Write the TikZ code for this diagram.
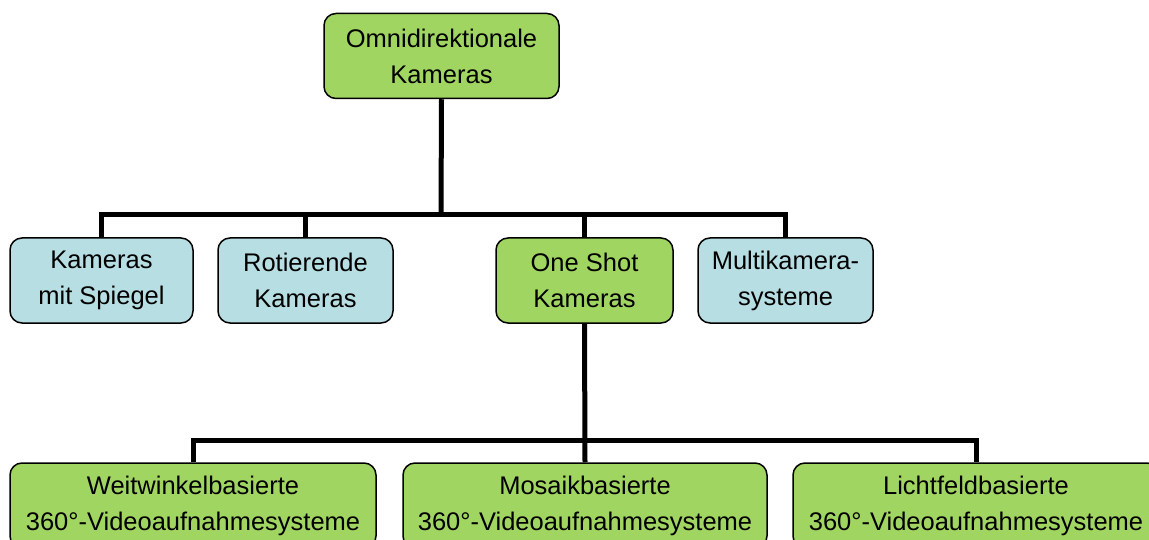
\documentclass[tikz,border=0pt]{standalone}
\usepackage{fontspec}
\setmainfont{Liberation Sans}
\definecolor{boxgreen}{HTML}{A0D562}
\definecolor{boxblue}{HTML}{B7DEE3}

\begin{document}
\begin{tikzpicture}[x=1pt, y=-1pt,
    box/.style={draw, line width=1.5pt, rounded corners=12pt, align=center, inner sep=0pt,
      minimum height=85pt, font=\fontsize{25.5}{36}\selectfont},
    green box/.style={box, fill=boxgreen},
    blue box/.style={box, fill=boxblue},
    link/.style={line width=5pt}]
  \useasboundingbox (0, 0) rectangle (1149, 540);

  % top level
  \node[green box, minimum width=235pt] (omni) at (441.5, 56) {Omnidirektionale\\Kameras};

  % second level
  \node[blue box, minimum width=183pt] (spiegel) at (101.5, 280.5) {Kameras\\mit Spiegel};
  \node[blue box, minimum width=175pt] (rotierend) at (305.5, 280.5) {Rotierende\\Kameras};
  \node[green box, minimum width=177pt] (oneshot) at (584.5, 280.5) {One Shot\\Kameras};
  \node[blue box, minimum width=175pt] (multi) at (785.5, 280.5) {Multikamera-\\systeme};

  % third level
  \node[green box, minimum width=366pt] (weit) at (193, 505.5) {Weitwinkelbasierte\\360°-Videoaufnahmesysteme};
  \node[green box, minimum width=364pt] (mosaik) at (585, 505.5) {Mosaikbasierte\\360°-Videoaufnahmesysteme};
  \node[green box, minimum width=366pt] (licht) at (976, 505.5) {Lichtfeldbasierte\\360°-Videoaufnahmesysteme};

  \coordinate (bus1) at (441, 215);
  \coordinate (bus2) at (585, 440);

  \draw[link] (omni.south) -- (bus1);
  \draw[link] (spiegel.north) |- (bus1) -| (multi.north);
  \draw[link] (rotierend.north) -- (rotierend.north |- bus1);
  \draw[link] (oneshot.north) -- (oneshot.north |- bus1);

  \draw[link] (oneshot.south) -- (mosaik.north);
  \draw[link] (weit.north) |- (bus2) -| (licht.north);
\end{tikzpicture}
\end{document}
